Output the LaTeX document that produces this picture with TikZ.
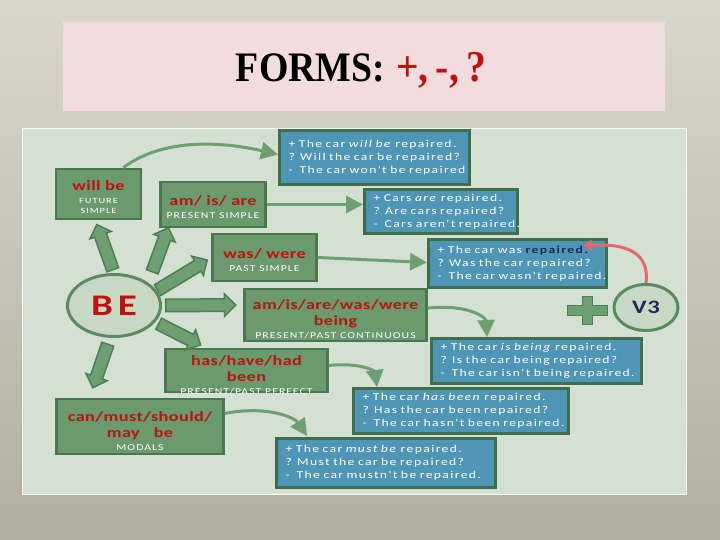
\documentclass[tikz,border=0pt]{standalone}
\usepackage{fontspec}
\setmainfont{Carlito}
\usetikzlibrary{shapes.geometric,shapes.arrows,arrows.meta,calc}
\newfontfamily\bluef[LetterSpace=13,FakeStretch=1.3]{Carlito}
\newfontfamily\subf[LetterSpace=12,FakeStretch=1.3]{Carlito}
\newfontfamily\redf[LetterSpace=3,FakeStretch=1.3]{Carlito}
\newfontfamily\titlef[FakeStretch=0.9]{Liberation Serif}
\definecolor{gfill}{HTML}{6A9A6D}
\definecolor{gdraw}{HTML}{4A7650}
\definecolor{bfill}{HTML}{4F95B5}
\definecolor{bdraw}{HTML}{3F6E4A}
\definecolor{efill}{HTML}{C7D9C5}
\definecolor{edraw}{HTML}{5A8A5E}
\definecolor{afill}{HTML}{6E9F73}
\definecolor{adraw}{HTML}{4E7E54}
\definecolor{panel}{HTML}{D4E0D1}
\definecolor{redt}{RGB}{192,16,16}
\definecolor{navy}{HTML}{1A2A5C}
\definecolor{pinkbg}{HTML}{F2DCDD}
\definecolor{redarr}{HTML}{E26A6A}
\definecolor{bgtop}{HTML}{D9D6CB}
\definecolor{bgbot}{HTML}{B3AE9F}
\newcommand\fatarr[3]{\path #1 -- #2 node[fatarrow, pos=0, sloped, allow upside down, anchor=tail, minimum height=#3]{};}
\begin{document}
\begin{tikzpicture}[x=1pt,y=-1pt,
  gbox/.style={draw=gdraw, fill=gfill, line width=2.5pt, inner sep=0pt},
  glab/.style={align=center, text=redt, font=\redf\bfseries\fontsize{14}{16}\selectfont, inner sep=0pt},
  bbox/.style={draw=bdraw, fill=bfill, line width=3pt, inner xsep=9pt, inner ysep=0pt, align=left, text=white, font=\bluef\fontsize{10.5}{13}\selectfont},
  conn/.style={draw=afill, line width=3pt, -{Triangle[length=17pt,width=17pt]}},
  redarrow/.style={draw=redarr, line width=3pt, -{Triangle[length=9pt,width=11pt]}},
  fatarrow/.style={single arrow, draw=adraw, fill=afill, line width=1.5pt, minimum width=0pt, inner xsep=0pt, inner ysep=5.5pt, single arrow head extend=5pt},
  ell/.style={ellipse, draw=edraw, fill=efill, line width=3pt, inner sep=0pt}
]
\useasboundingbox (0,0) rectangle (720,540);
\shade[top color=bgtop, bottom color=bgbot] (0,0) rectangle (720,540);
% title
\fill[pinkbg] (63,22) rectangle (665,111);
\node[anchor=base, inner sep=0pt] (title) at (361,82) {{\titlef\bfseries\fontsize{42}{46}\selectfont FORMS:}\hspace{11pt}{\color{redt}\titlef\bfseries\fontsize{44}{46}\selectfont +,\,-,\,?}};
% panel
\draw[fill=panel, draw=white!85!panel, line width=1pt] (22,129) rectangle (686,494);

% green boxes
\node[gbox, minimum width=85pt, minimum height=50pt,
  label={[glab, yshift=-3pt]center:{will be\\[-3pt]{\subf\mdseries\color{white}\fontsize{8}{10}\selectfont FUTURE}\\[-6pt]{\subf\mdseries\color{white}\fontsize{8}{10}\selectfont SIMPLE}}}] (will) at (98.5,194) {};
\node[gbox, minimum width=105pt, minimum height=45pt,
  label={[glab, yshift=-3pt]center:{am/ is/ are\\[-3pt]{\subf\mdseries\color{white}\fontsize{9}{10}\selectfont PRESENT SIMPLE}}}] (am) at (213,204.5) {};
\node[gbox, minimum width=104pt, minimum height=47pt,
  label={[glab, yshift=-3pt]center:{was/ were\\[-3pt]{\subf\mdseries\color{white}\fontsize{9}{10}\selectfont PAST SIMPLE}}}] (was) at (264.5,257.5) {};
\node[gbox, minimum width=182pt, minimum height=52pt,
  label={[glab, yshift=-4pt]center:{am/is/are/was/were\\being\\[-3pt]{\subf\mdseries\color{white}\fontsize{9}{10}\selectfont PRESENT/PAST CONTINUOUS}}}] (being) at (335.5,315) {};
\node[gbox, minimum width=162pt, minimum height=43pt,
  label={[glab, yshift=-5pt]center:{has/have/had\\been\\[-3pt]{\subf\mdseries\color{white}\fontsize{9}{10}\selectfont PRESENT/PAST PERFECT}}}] (has) at (246.5,370.5) {};
\node[gbox, minimum width=167pt, minimum height=55pt,
  label={[glab, yshift=-5pt]center:{can/must/should/\\may\quad be\\[-3pt]{\subf\mdseries\color{white}\fontsize{9}{10}\selectfont MODALS}}}] (modals) at (140,426.5) {};

% blue boxes
\node[bbox, text width=172pt, minimum height=54pt] (b1) at (374.5,157.5) {\mbox{+ The car \textit{will be} repaired.}\\\mbox{? Will the car be repaired?}\\\mbox{-\ \ The car won't be repaired}};
\node[bbox, text width=135pt, minimum height=44pt] (b2) at (441,211.5) {\mbox{+ Cars \textit{are} repaired.}\\\mbox{? Are cars repaired?}\\\mbox{-\ \ Cars aren't repaired.}};
\node[bbox, text width=160pt, minimum height=48pt] (b3) at (517.5,263.5) {\mbox{+ The car was {\bfseries\color{navy}repaired.}}\\\mbox{? Was the car repaired?}\\\mbox{-\ \ The car wasn't repaired.}};
\node[bbox, text width=192pt, minimum height=45pt] (b4) at (536.5,361) {\mbox{+ The car \textit{is being} repaired.}\\\mbox{? Is the car being repaired?}\\\mbox{-\ \ The car isn't being repaired.}};
\node[bbox, text width=197pt, minimum height=45pt] (b5) at (461,411) {\mbox{+ The car \textit{has been} repaired.}\\\mbox{? Has the car been repaired?}\\\mbox{-\ \ The car hasn't been repaired.}};
\node[bbox, text width=201pt, minimum height=49pt] (b6) at (386,463) {\mbox{+ The car \textit{must be} repaired.}\\\mbox{? Must the car be repaired?}\\\mbox{-\ \ The car mustn't be repaired.}};

% ellipses
\node[ell, minimum width=93pt, minimum height=62pt, text=redt, font=\redf\bfseries\fontsize{30}{30}\selectfont] (be) at (114,305.5) {B\,E};
\node[ell, minimum width=64pt, minimum height=46pt, text=navy, font=\redf\bfseries\fontsize{19}{19}\selectfont] (v3) at (646,307.5) {V3};

% plus sign
\draw[fill=afill, draw=adraw, line width=1pt] (567,305) -- (582,305) -- (582,296) -- (592,296) -- (592,305) -- (607,305) -- (607,315) -- (592,315) -- (592,324) -- (582,324) -- (582,315) -- (567,315) -- cycle;

% fat arrows from BE
\fatarr{($(be)+(-1,-35)$)}{($(will.south)+(-1.5,5)$)}{48pt}
\fatarr{($(be)+(38,-33)$)}{($(am.south west)+(9,0)$)}{47pt}
\fatarr{($(be)+(43,-15)$)}{($(was.west)+(-4,2.5)$)}{58pt}
\fatarr{($(be)+(51,0)$)}{($(being.west)+(-8,-10)$)}{70pt}
\fatarr{($(be)+(44,18)$)}{($(has.north west)+(36,-3)$)}{47pt}
\fatarr{($(be)+(-6,38)$)}{($(modals.north west)+(38,-11)$)}{46pt}

% connectors
\draw[conn] ($(will.north east)+(-19,0)$) .. controls (160,140) and (215,140) .. ($(b1.west)+(0,-3)$);
\draw[conn] (am.east) -- (am.east -| b2.west);
\draw[conn] (was.east) -- ($(b3.west)+(0,-1)$);
\draw[conn] ($(being.east)+(0,-7)$) .. controls (470,304) and (486,318) .. ($(b4.north west)+(57,0)$);
\draw[conn] ($(has.east)+(0,-5)$) .. controls (362,362) and (375,372) .. ($(b5.north west)+(25,0)$);
\draw[conn] ($(modals.east)+(0,-13)$) .. controls (268,405) and (295,418) .. ($(b6.north west)+(32,-1)$);
\draw[redarrow] (v3.north) .. controls (650,252) and (625,243) .. ($(b3.north east)+(-25,8)$);
\end{tikzpicture}
\end{document}
